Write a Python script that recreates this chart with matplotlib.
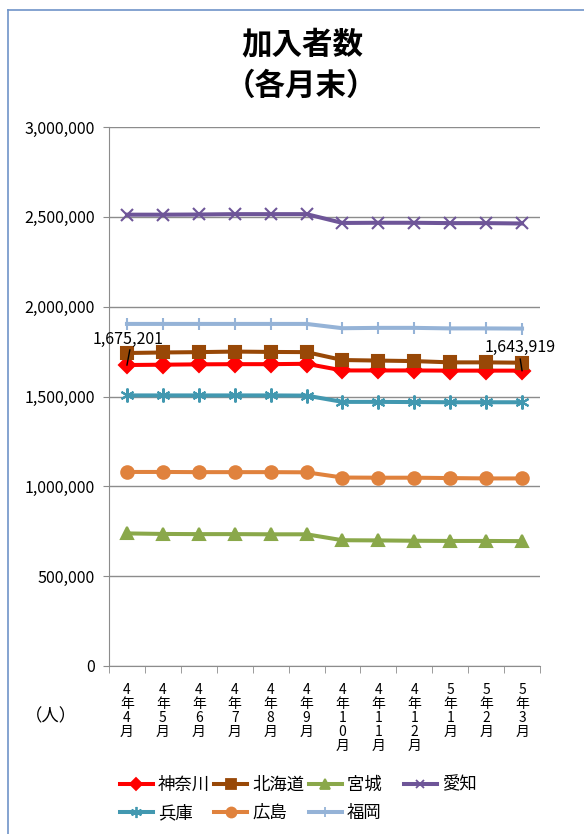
import matplotlib.pyplot as plt
from matplotlib.lines import Line2D
from matplotlib.ticker import FuncFormatter, FixedLocator

plt.rcParams['font.family'] = ['Noto Sans CJK JP', 'DejaVu Sans']

# -------------------- data --------------------
months = ['4\n年\n4\n月', '4\n年\n5\n月', '4\n年\n6\n月', '4\n年\n7\n月', '4\n年\n8\n月', '4\n年\n9\n月',
          '4\n年\n1\n0\n月', '4\n年\n1\n1\n月', '4\n年\n1\n2\n月', '5\n年\n1\n月', '5\n年\n2\n月', '5\n年\n3\n月']

kanagawa = [1675201, 1677000, 1679000, 1680000, 1680000, 1682000,
            1645000, 1645000, 1645000, 1644000, 1644000, 1643919]
hokkaido = [1742000, 1745000, 1747000, 1750000, 1748000, 1747000,
            1703000, 1700000, 1697000, 1690000, 1690000, 1688000]
miyagi = [738000, 735000, 734000, 734000, 733000, 733000,
          700000, 699000, 697000, 696000, 696000, 695000]
aichi = [2512000, 2512000, 2513000, 2515000, 2515000, 2515000,
         2466000, 2467000, 2467000, 2465000, 2465000, 2463000]
hyogo = [1506000, 1506000, 1506000, 1506000, 1506000, 1505000,
         1470000, 1470000, 1469000, 1468000, 1468000, 1468000]
hiroshima = [1080000, 1080000, 1079000, 1079000, 1079000, 1078000,
             1049000, 1048000, 1048000, 1046000, 1044000, 1044000]
fukuoka = [1904000, 1904000, 1904000, 1904000, 1904000, 1904000,
           1880000, 1882000, 1882000, 1879000, 1879000, 1878000]

series = [
    ('神奈川', kanagawa, '#FF0000', 'D', 8),
    ('北海道', hokkaido, '#984807', 's', 8.5),
    ('宮城', miyagi, '#8AA84A', '^', 9),
    ('愛知', aichi, '#6E5598', 'x', 8),
    ('兵庫', hyogo, '#4298B0', (6, 2, 0), 10),
    ('広島', hiroshima, '#E0823D', 'o', 9),
    ('福岡', fukuoka, '#95B3D7', '|', 9),
]

# -------------------- plot --------------------
fig = plt.figure(figsize=(5.84, 8.34), dpi=100)
ax = fig.add_axes([109 / 584, 168 / 834, 431 / 584, 539 / 834])

x = list(range(len(months)))
handles = []
for name, vals, col, mk, ms in series:
    ax.plot(x, vals, color=col, lw=2.9, marker=mk, markersize=ms,
            markeredgewidth=1.5, markeredgecolor=col, markerfacecolor=col,
            solid_joinstyle='round', zorder=3)
    # smaller markers in the legend keys
    handles.append(Line2D([], [], color=col, lw=2.9, marker=mk, markersize=ms * 0.8,
                          markeredgewidth=1.3, markeredgecolor=col, markerfacecolor=col))

ax.set_xlim(-0.5, len(months) - 0.5)
ax.set_ylim(0, 3000000)
ax.set_yticks(range(0, 3000001, 500000))
ax.yaxis.set_major_formatter(FuncFormatter(lambda v, p: f'{int(v):,}'))
ax.grid(axis='y', color='#8C8C8C', lw=1)
ax.set_axisbelow(True)

ax.set_xticks(x)
ax.set_xticklabels(months, fontsize=10, linespacing=1.0, va='top')
ax.xaxis.set_minor_locator(FixedLocator([i - 0.5 for i in range(len(months) + 1)]))
ax.tick_params(axis='x', which='major', length=0, pad=12)
ax.tick_params(axis='x', which='minor', length=5, color='#8C8C8C', direction='out')
ax.tick_params(axis='y', length=4, color='#8C8C8C', labelsize=11.5, pad=6)

for s in ['top', 'right']:
    ax.spines[s].set_visible(False)
for s in ['left', 'bottom']:
    ax.spines[s].set_color('#8C8C8C')

# data labels with leader lines
ax.text(0.03, 1820000, f'{kanagawa[0]:,}', ha='center', va='center', fontsize=11.5)
ax.plot([0.08, 0], [1759000, kanagawa[0]], color='black', lw=1, zorder=4)
ax.text(10.95, 1775000, f'{kanagawa[-1]:,}', ha='center', va='center', fontsize=11.5)
ax.plot([10.95, 11], [1708000, kanagawa[-1]], color='black', lw=1, zorder=4)

# titles
fig.text(302 / 584, 1 - 44 / 834, '加入者数', ha='center', va='center', fontsize=22, fontweight='bold')
fig.text(301 / 584, 1 - 86 / 834, '（各月末）', ha='center', va='center', fontsize=22, fontweight='bold')
fig.text(51 / 584, 1 - 716 / 834, '（人）', ha='center', va='center', fontsize=12.5)

# legend, row-major order for 4 columns
labels = [s[0] for s in series]
labels[2] = labels[2] + '\u3000'
order = [0, 4, 1, 5, 2, 6, 3]
fig.legend([handles[i] for i in order], [labels[i] for i in order], loc='upper left', ncol=4,
           bbox_to_anchor=(104 / 584, 1 - 760 / 834), frameon=False, fontsize=12.5,
           handlelength=1.9, handletextpad=0.3, columnspacing=0.25, labelspacing=0.6)

# chart frame
fig.add_artist(Line2D([8 / 584, 8 / 584], [0, 1 - 10 / 834], transform=fig.transFigure, color='#6F93C8', lw=1.2))
fig.add_artist(Line2D([8 / 584, 1], [1 - 10 / 834, 1 - 10 / 834], transform=fig.transFigure, color='#6F93C8', lw=1.2))

fig.savefig('out.png', dpi=100)
